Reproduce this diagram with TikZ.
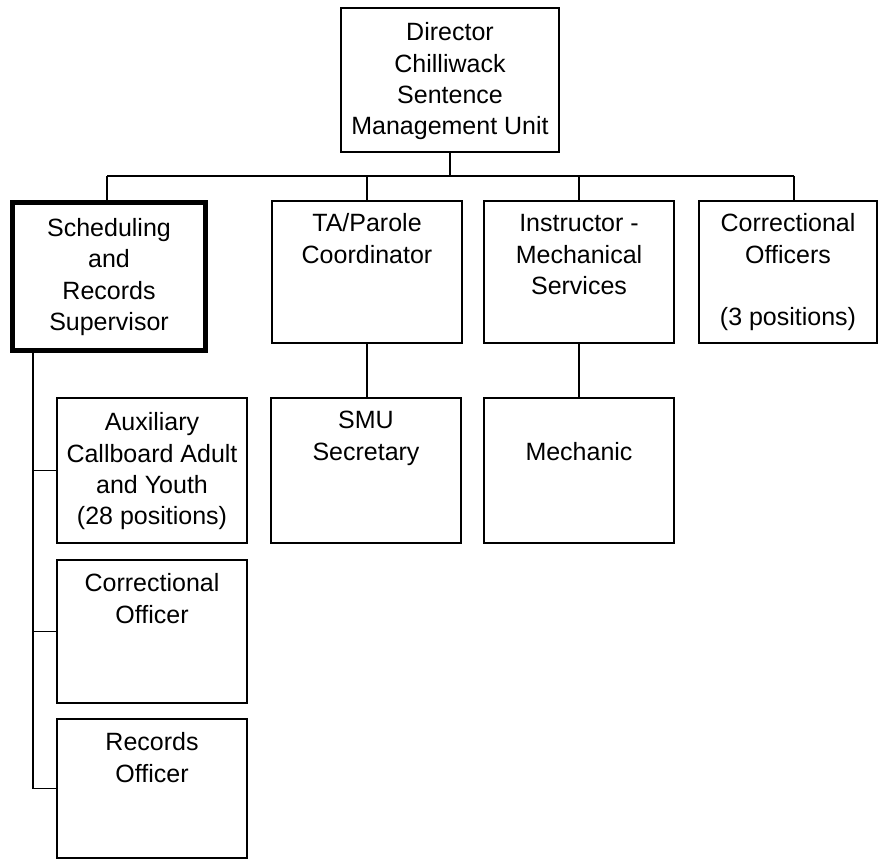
\documentclass[tikz,border=0pt]{standalone}
\usepackage{fontspec}
\setmainfont{Liberation Sans}
\newcommand{\bx}[4]{\parbox[t][#2pt][t]{#1pt}{\centering\fontsize{25pt}{31.3pt}\selectfont\vspace*{#3pt}\strut #4}}
\tikzset{
  orgbox/.style={draw, line width=1.8pt, rectangle, inner sep=0pt, outer sep=0pt, anchor=north west},
  heavybox/.style={orgbox, line width=5pt},
  conn/.style={draw, line width=1.8pt}
}
\begin{document}
\begin{tikzpicture}[x=1pt,y=-1pt]
\fill[white] (0,0) rectangle (880,861);
\useasboundingbox (0,0) rectangle (880,861);

% top level
\node[orgbox] (dir) at (341,8) {\bx{218}{144}{11}{Director\\Chilliwack\\Sentence\\Management Unit}};

% second level
\node[heavybox] (sched) at (12.5,202.5) {\bx{193}{148}{12}{Scheduling\\and\\Records\\Supervisor}};
\node[orgbox] (ta) at (272,201) {\bx{190}{142}{9}{TA/Parole\\Coordinator}};
\node[orgbox] (instr) at (484,201) {\bx{190}{142}{9}{Instructor -\\Mechanical\\Services}};
\node[orgbox] (corrs) at (699,201) {\bx{178}{142}{9}{Correctional\\Officers\\\mbox{}\\(3 positions)}};

% third level
\node[orgbox] (smu) at (271,398) {\bx{190}{145}{9}{SMU\\Secretary}};
\node[orgbox] (mech) at (484,398) {\bx{190}{145}{9}{\mbox{}\\Mechanic}};

% left column
\node[orgbox] (aux) at (57,398) {\bx{190}{145}{11}{Auxiliary\\Callboard Adult\\and Youth\\(28 positions)}};
\node[orgbox] (co) at (57,560) {\bx{190}{143}{10}{Correctional\\Officer}};
\node[orgbox] (rec) at (57,719) {\bx{190}{139}{10}{Records\\Officer}};

% bus
\coordinate (busL) at (107,176);
\coordinate (busR) at (794,176);
\coordinate (lv) at (33,0);

\draw[conn] (dir.south) -- (dir.south |- busL);
\draw[conn] (busL) -- (busR);
\draw[conn] (busL) -- (busL |- sched.north);
\draw[conn] (ta.north |- busL) -- (ta.north);
\draw[conn] (instr.north |- busL) -- (instr.north);
\draw[conn] (busR) -- (busR |- corrs.north);

\draw[conn] (ta.south) -- (ta.south |- smu.north);
\draw[conn] (instr.south) -- (mech.north);

\draw[conn] (sched.south -| lv) -- (lv |- rec.west) -- (rec.west);
\draw[conn] (lv |- aux.west) -- (aux.west);
\draw[conn] (lv |- co.west) -- (co.west);
\end{tikzpicture}
\end{document}
